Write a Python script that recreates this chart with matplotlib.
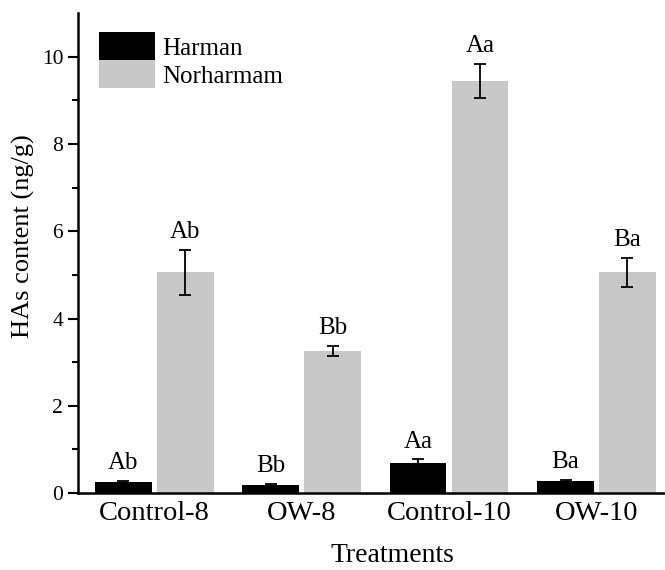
import matplotlib.pyplot as plt
import numpy as np

plt.rcParams['font.family'] = ['Liberation Serif', 'DejaVu Serif']

treatments = ['Control-8', 'OW-8', 'Control-10', 'OW-10']
harman = [0.25, 0.18, 0.70, 0.28]
harman_err = [0.02, 0.02, 0.07, 0.02]
norharmam = [5.06, 3.26, 9.44, 5.06]
norharmam_err = [0.52, 0.11, 0.39, 0.33]
harman_letters = ['Ab', 'Bb', 'Aa', 'Ba']
norharmam_letters = ['Ab', 'Bb', 'Aa', 'Ba']

fig = plt.figure(figsize=(6.65, 5.7), dpi=100)
ax = fig.add_axes([0.117, 0.135, 0.883, 0.842])

x = np.arange(len(treatments))
w = 0.385
off = 0.21
err_kw = dict(ecolor='black', elinewidth=1.3, capsize=4.3, capthick=1.3)

ax.bar(x - off, harman, w, yerr=harman_err, color='black', label='Harman', error_kw=err_kw)
ax.bar(x + off, norharmam, w, yerr=norharmam_err, color='#c8c8c8', label='Norharmam', error_kw=err_kw)

for i in range(len(x)):
    ax.annotate(harman_letters[i], (x[i] - off, harman[i] + harman_err[i]),
                xytext=(0, 5), textcoords='offset points', ha='center', va='bottom', fontsize=18)
    ax.annotate(norharmam_letters[i], (x[i] + off, norharmam[i] + norharmam_err[i]),
                xytext=(0, 5), textcoords='offset points', ha='center', va='bottom', fontsize=18)

ax.set_xlim(-0.519, 3.465)
ax.set_ylim(0, 11)
ax.set_xticks(x)
ax.set_xticklabels(treatments, fontsize=20.5)
ax.set_yticks([0, 2, 4, 6, 8, 10])
ax.set_yticks([1, 3, 5, 7, 9], minor=True)
ax.tick_params(axis='y', which='major', length=7, width=1.5, labelsize=15.5, direction='out')
ax.tick_params(axis='y', which='minor', length=4, width=1.5, direction='out')
ax.tick_params(axis='x', length=0, pad=6)

ax.spines['top'].set_visible(False)
ax.spines['right'].set_visible(False)
ax.spines['left'].set_linewidth(1.8)
ax.spines['bottom'].set_linewidth(1.8)

ax.set_xlabel('Treatments', fontsize=20)
ax.xaxis.set_label_coords(0.535, -0.105)
ax.set_ylabel('HAs content (ng/g)', fontsize=19)
ax.yaxis.set_label_coords(-0.073, 0.535)

ax.legend(loc='upper left', bbox_to_anchor=(0.036, 0.96), frameon=False, fontsize=18,
          handlelength=2.25, handleheight=1.35, labelspacing=0, handletextpad=0.3,
          borderaxespad=0, borderpad=0)

fig.savefig('out.png', dpi=100)
